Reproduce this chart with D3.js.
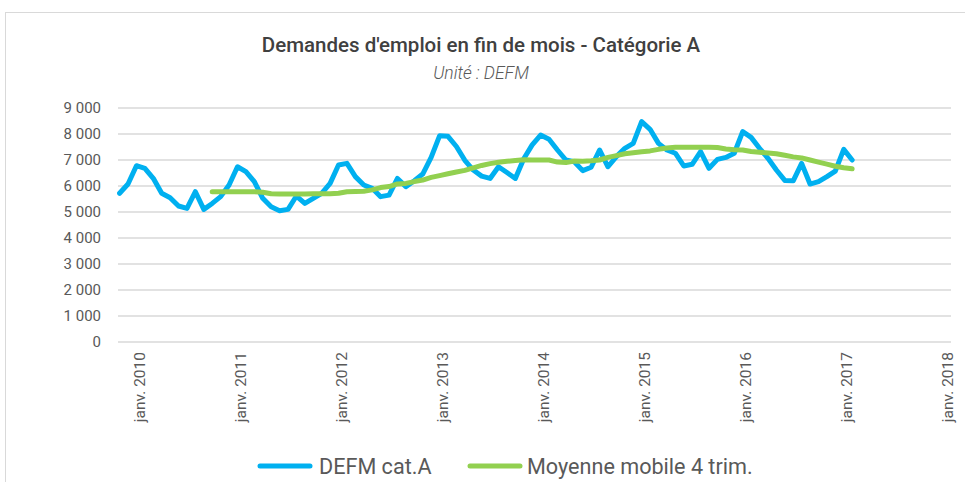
<!DOCTYPE html>
<html><head><meta charset="utf-8">
<script src="https://cdn.jsdelivr.net/npm/d3@7/dist/d3.min.js"></script>
<style>body{margin:0;background:#fff}svg{display:block}</style>
</head><body>
<svg id="c" width="965" height="482"></svg>
<script>
// Months: index 0 = janv. 2010; series starts nov. 2009 (index -2)
const firstMonthIndex = -2;
const defm = [5720,6077,6780,6680,6295,5720,5550,5230,5140,5780,5100,5330,5590,6040,
  6740,6550,6170,5525,5200,5050,5100,5615,5330,5525,5720,6100,
  6810,6870,6360,6040,5910,5590,5650,6290,5975,6200,6460,7100,
  7930,7910,7520,6990,6615,6380,6290,6740,6520,6290,7050,7580,
  7960,7800,7385,7000,6935,6590,6720,7385,6740,7130,7450,7640,
  8475,8180,7640,7385,7260,6770,6835,7320,6680,7025,7100,7260,
  8090,7870,7450,7065,6615,6215,6200,6870,6075,6165,6360,6575,
  7410,7000];
const mmFirstIndex = 9; // oct. 2010
const moyenne = [5780,5780,5780,5780,5780,5780,5760,5700,5690,5690,5690,5690,5700,5700,5700,
  5720,5780,5790,5800,5850,5940,5980,6080,6100,6170,6230,6330,
  6400,6470,6540,6600,6700,6790,6860,6910,6950,6980,7010,7000,
  7000,7000,6920,6900,6960,6950,6970,7000,7100,7170,7240,7280,
  7320,7350,7410,7460,7490,7490,7490,7490,7490,7480,7420,7390,
  7385,7330,7300,7270,7240,7180,7120,7080,7000,6920,6840,6760,
  6700,6660];
const yTicks = [0,1000,2000,3000,4000,5000,6000,7000,8000,9000];
const xTickMonths = [0,12,24,36,48,60,72,84,96];
const xTickLabels = ["janv. 2010","janv. 2011","janv. 2012","janv. 2013","janv. 2014","janv. 2015","janv. 2016","janv. 2017","janv. 2018"];
const seriesNames = ["DEFM cat.A","Moyenne mobile 4 trim."];
const colors = ["#00B0F0","#92D050"];

const svg = d3.select("#c");
svg.append("rect").attr("x",5.5).attr("y",12.5).attr("width",990).attr("height",500)
  .attr("fill","#fff").attr("stroke","#d9d9d9").attr("stroke-width",1);

const x = d3.scaleLinear().domain([-2.19, 96.74]).range([118, 951]);
const y = d3.scaleLinear().domain([0, 9000]).range([342, 108]);

// grid
svg.append("g").selectAll("line").data(yTicks).join("line")
  .attr("x1",118).attr("x2",951).attr("y1",d=>y(d)).attr("y2",d=>y(d))
  .attr("stroke","#d9d9d9").attr("stroke-width",1.5);

// y labels
const fmt = d => d3.format(",")(d).replace(/,/g," ");
svg.append("g").selectAll("text").data(yTicks).join("text")
  .attr("x",101).attr("y",d=>y(d)).attr("dy","0.36em").attr("text-anchor","end")
  .attr("font-family","Roboto").attr("font-size",15).attr("fill","#595959")
  .text(fmt);

// x labels
svg.append("g").selectAll("text").data(xTickMonths).join("text")
  .attr("transform",d=>`translate(${x(d)+2.5},352) rotate(-90)`)
  .attr("dy","0.36em").attr("text-anchor","end")
  .attr("font-family","Roboto").attr("font-size",15.5).attr("fill","#595959")
  .text((d,i)=>xTickLabels[i]);

const line = d3.line().x(d=>x(d[0])).y(d=>y(d[1]));
const s1 = defm.map((v,i)=>[firstMonthIndex+i, v]);
const s2 = moyenne.map((v,i)=>[mmFirstIndex+i, v]);
svg.append("path").datum(s1).attr("d",line).attr("fill","none")
  .attr("stroke",colors[0]).attr("stroke-width",5).attr("stroke-linejoin","round").attr("stroke-linecap","round");
svg.append("path").datum(s2).attr("d",line).attr("fill","none")
  .attr("stroke",colors[1]).attr("stroke-width",5).attr("stroke-linejoin","round").attr("stroke-linecap","round");

// title
svg.append("text").attr("x",481).attr("y",52).attr("text-anchor","middle")
  .attr("font-family","Roboto").attr("font-weight",500).attr("font-size",20.5).attr("fill","#404040")
  .text("Demandes d'emploi en fin de mois - Catégorie A");
svg.append("text").attr("x",481).attr("y",79).attr("text-anchor","middle")
  .attr("font-family","Roboto").attr("font-style","italic").attr("font-weight",300).attr("font-size",17.5).attr("fill","#595959")
  .text("Unité : DEFM");

// legend
const leg = [{x:258,tx:319},{x:468,tx:527}];
leg.forEach((l,i)=>{
  svg.append("line").attr("x1",l.x+2).attr("x2",l.x+52).attr("y1",466).attr("y2",466)
    .attr("stroke",colors[i]).attr("stroke-width",5).attr("stroke-linecap","round");
  svg.append("text").attr("x",l.tx).attr("y",466).attr("dy","0.36em")
    .attr("font-family","Roboto").attr("font-size",21.6).attr("fill","#595959").text(seriesNames[i]);
});
</script>
</body></html>
